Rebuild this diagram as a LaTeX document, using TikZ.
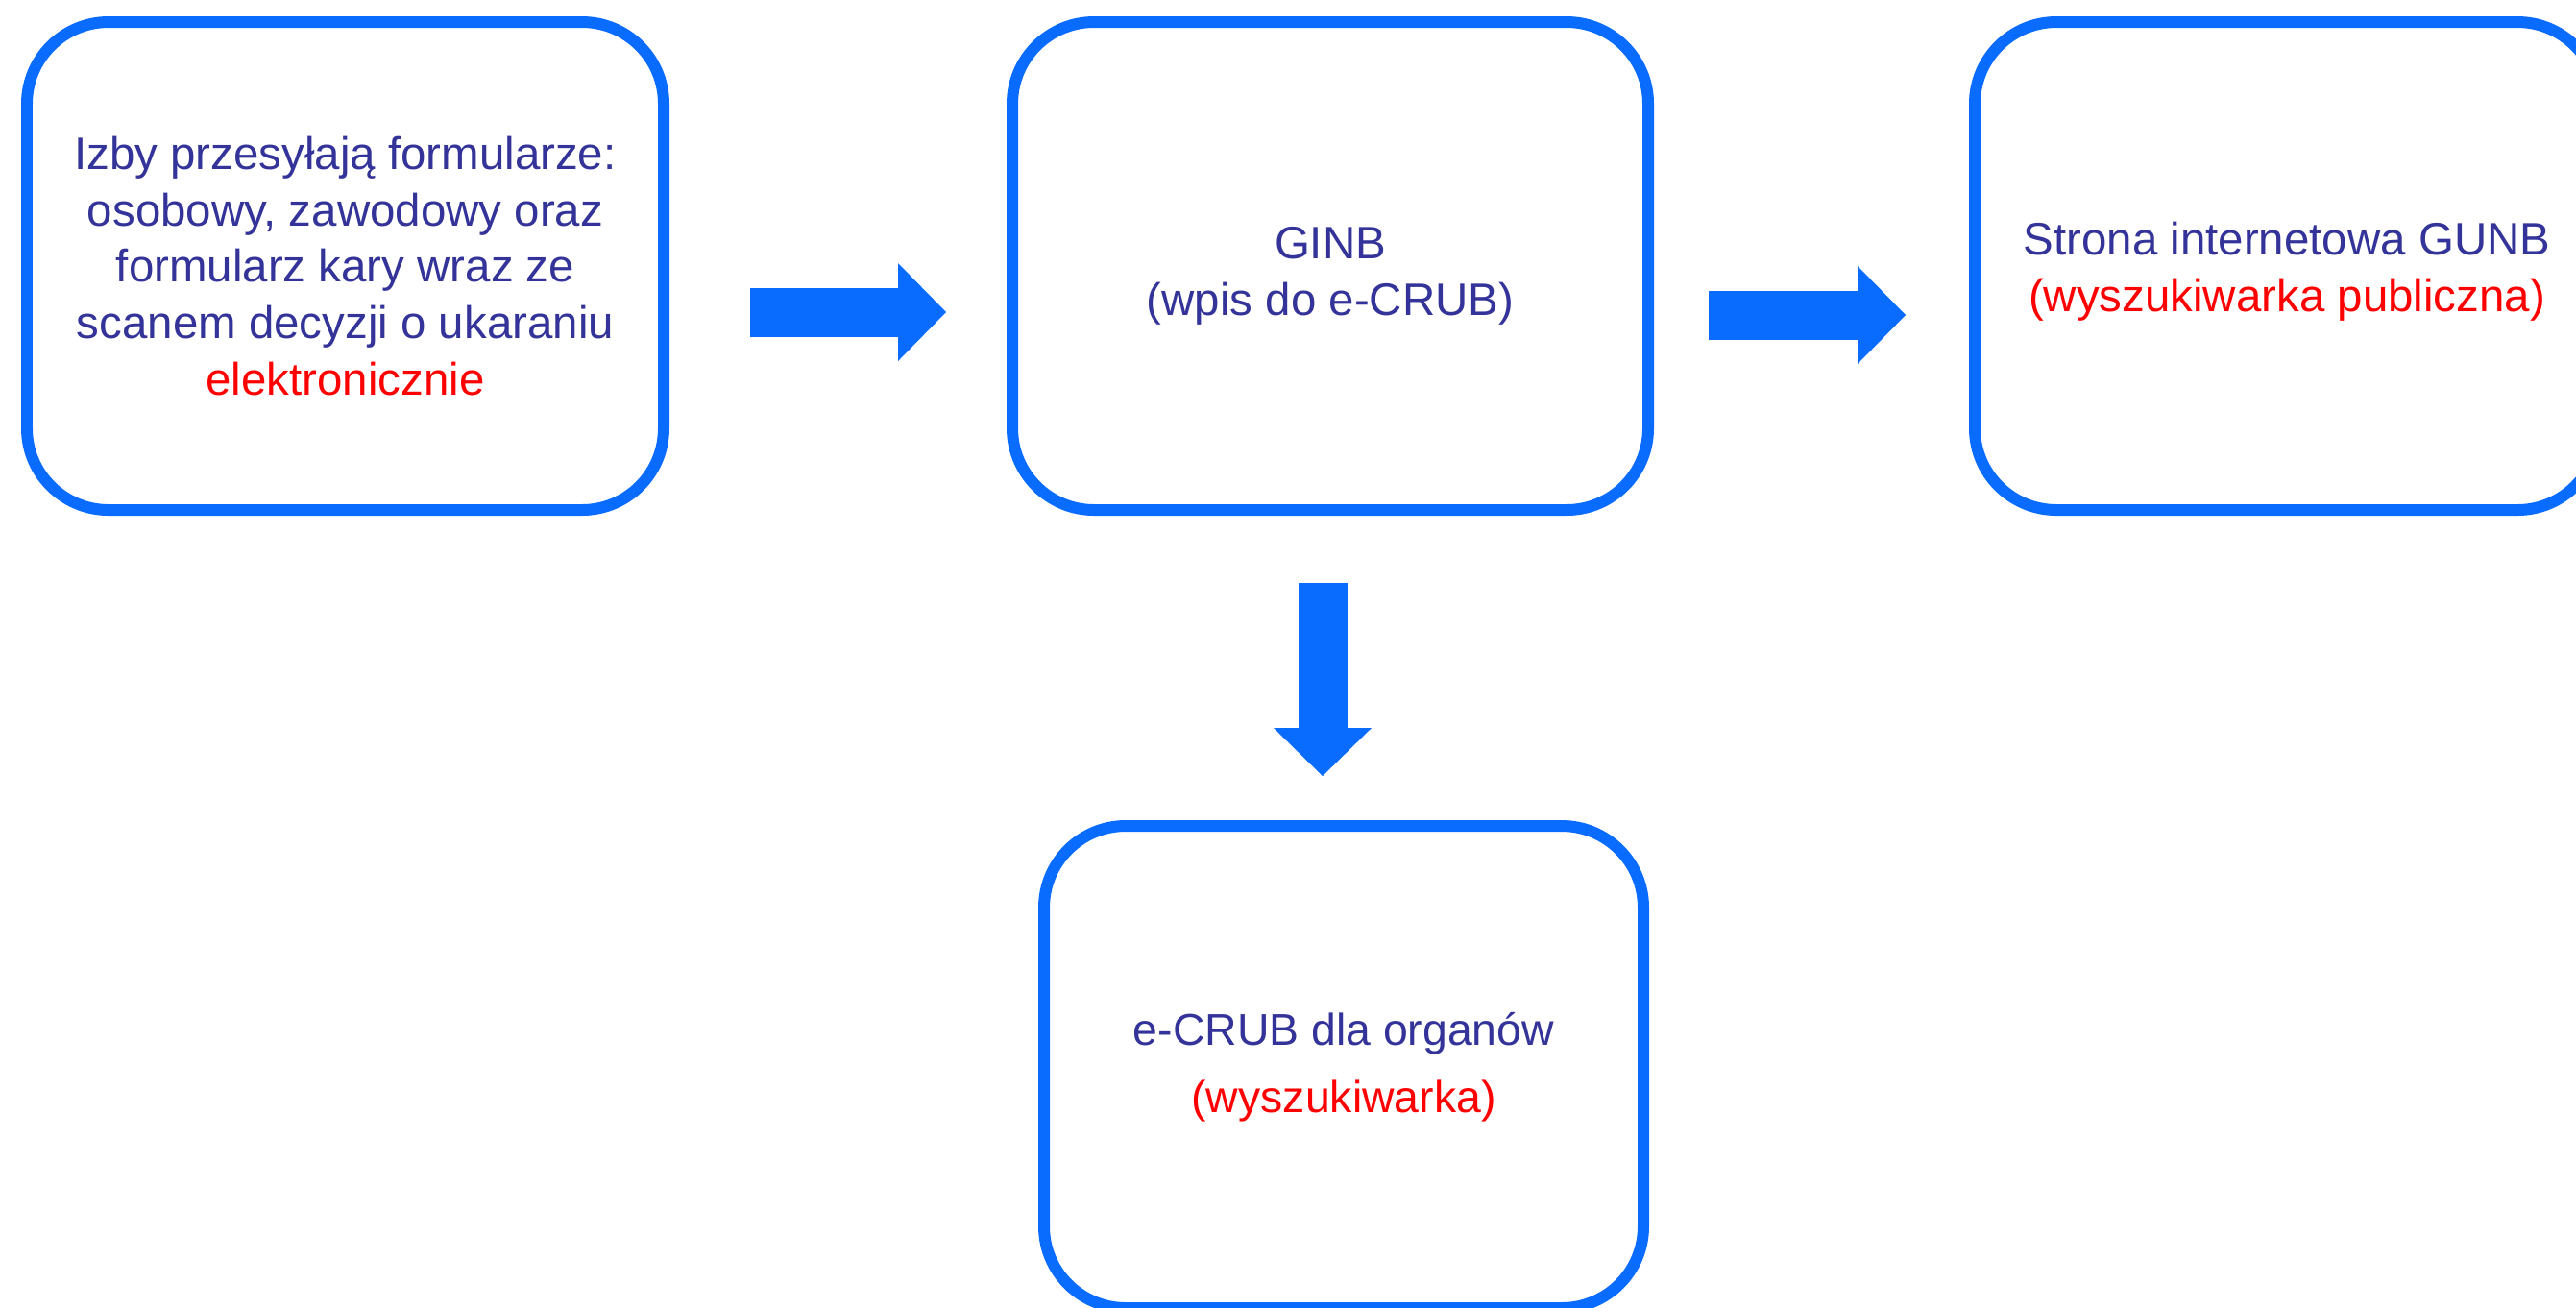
\documentclass[tikz,border=0pt]{standalone}
\usepackage{fontspec}
\setmainfont{Liberation Sans}
\usetikzlibrary{arrows.meta}
\definecolor{boxblue}{HTML}{0A6BFF}
\definecolor{txtblue}{HTML}{333399}
\definecolor{txtred}{HTML}{FF0000}
\newcommand{\lowered}[2]{\raisebox{-#1}[\height][\depth]{#2}}
\begin{document}
\begin{tikzpicture}
      [box/.style={draw=boxblue,line width=.12cm,rounded corners=.85cm
        ,outer sep=0pt,inner sep=0pt,align=center,text=txtblue
        ,font=\fontsize{13.5}{16.7}\selectfont}
      ,blockarr/.style={draw=boxblue,line width=.51cm
        ,-{Triangle[length=.5cm,width=1.02cm,line width=0pt]}}
      ]
        \useasboundingbox (0,0) rectangle (26.82,-13.61);
        \node[box,minimum width=6.63cm,minimum height=5.08cm] (izby) at (3.595,-2.77)
          {Izby przesyłają formularze:\\osobowy, zawodowy oraz\\formularz kary wraz ze\\scanem decyzji o ukaraniu\\\textcolor{txtred}{elektronicznie}};
        \node[box,minimum width=6.62cm,minimum height=5.08cm] (ginb) at (13.85,-2.77)
          {\lowered{.1cm}{GINB}\\\lowered{.1cm}{(wpis do e-CRUB)}};
        \node[box,minimum width=6.5cm,minimum height=5.08cm] (gunb) at (23.81,-2.77)
          {\lowered{.06cm}{Strona internetowa GUNB}\\\lowered{.06cm}{\textcolor{txtred}{(wyszukiwarka publiczna)}}};
        \node[box,minimum width=6.24cm,minimum height=5.02cm
          ,font=\fontsize{13.2}{19.9}\selectfont] (organy) at (13.99,-11.11)
          {e-CRUB dla organów\\\textcolor{txtred}{(wyszukiwarka)}};
        \draw[blockarr,shorten <=.9cm,shorten >=.69cm]
          ([yshift=-.48cm]izby.east) -- ([yshift=-.48cm]ginb.west);
        \draw[blockarr,shorten <=.63cm,shorten >=.72cm]
          ([yshift=-.51cm]ginb.east) -- ([yshift=-.51cm]gunb.west);
        \draw[blockarr,shorten <=.76cm,shorten >=.52cm]
          ([xshift=-.08cm]ginb.south) -- ([xshift=-.22cm]organy.north);
      \end{tikzpicture}
\end{document}
